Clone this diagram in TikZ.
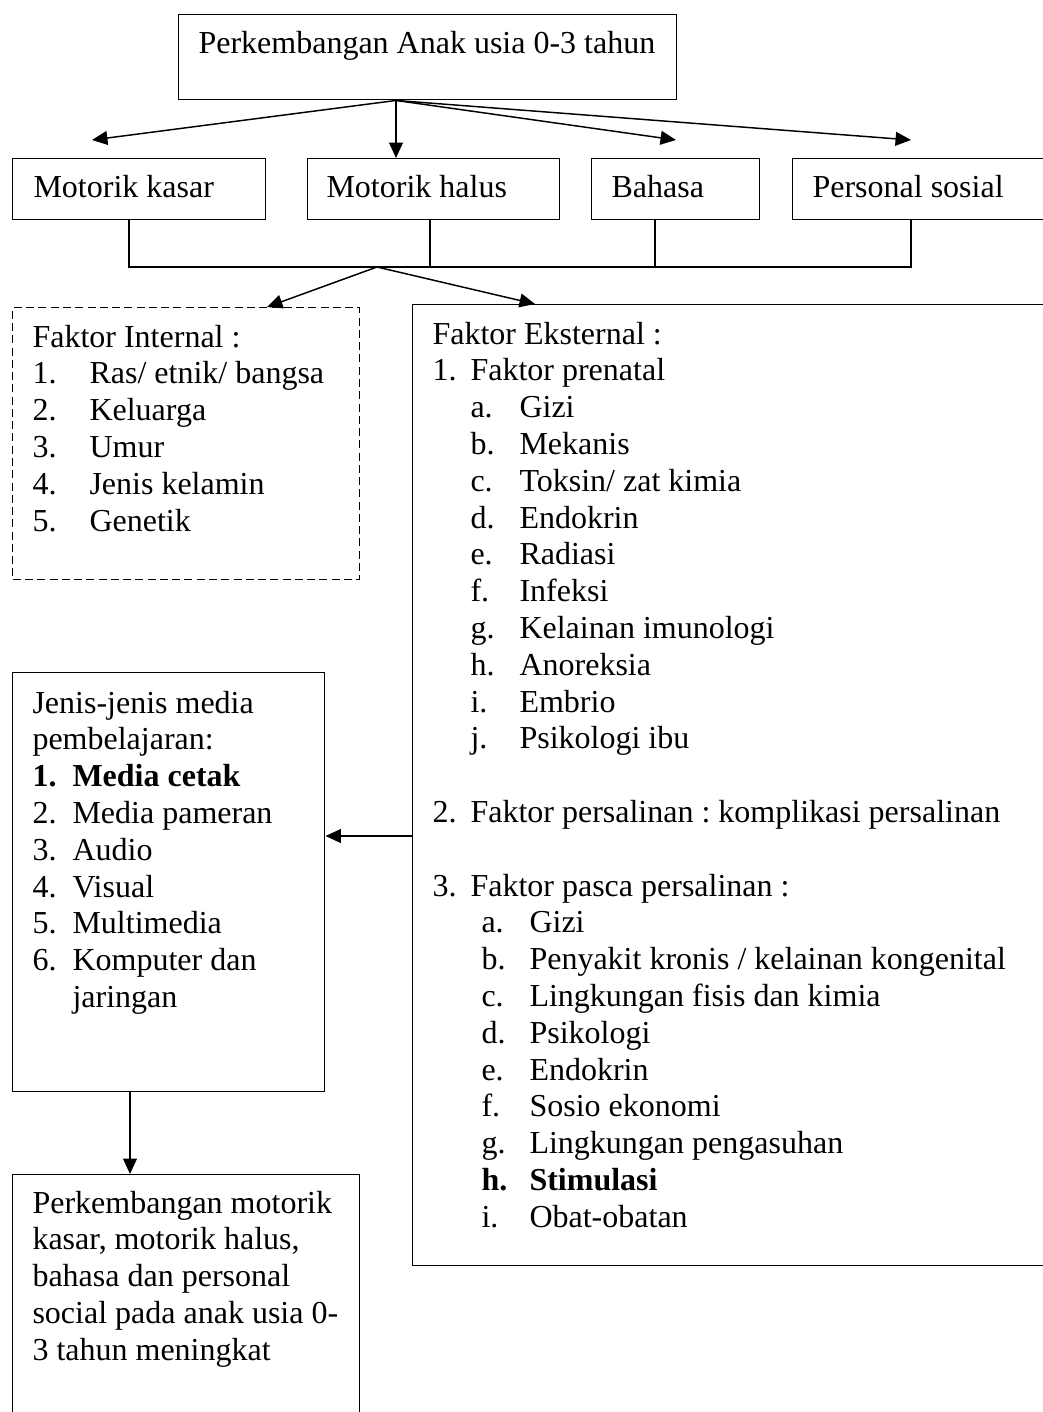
\documentclass[tikz,border=0pt]{standalone}
\usepackage{fontspec}
\setmainfont{Liberation Serif}
\usetikzlibrary{arrows.meta}
\newdimen\px
\px=0.375pt
\frenchspacing

\begin{document}
\begin{tikzpicture}[x=0.375pt, y=-0.375pt,
        box/.style={draw, line width=0.55pt, anchor=north west, inner sep=0pt},
        dashbox/.style={box, dash pattern=on 3pt off 1.6pt},
        txt/.style={anchor=base west, inner sep=0pt, font=\fontsize{12}{13.8}\selectfont},
        link/.style={line width=0.55pt, -{Triangle[length=5.8pt,width=5.2pt]}},
        joint/.style={line width=0.55pt}]

        \useasboundingbox (0,0) rectangle (1043,1412);
        \clip (0,0) rectangle (1043,1412);

        % main topic
        \node[box, minimum width=498*\px, minimum height=85*\px] (anak) at (178,14) {};
        \node[txt] (anakT) at (198,54) {Perkembangan Anak usia 0-3 tahun};

        % four aspects
        \node[box, minimum width=253*\px, minimum height=61*\px] (kasar) at (12,158) {};
        \node[txt] (kasarT) at (33,198) {Motorik kasar};
        \node[box, minimum width=252*\px, minimum height=61*\px] (halus) at (307,158) {};
        \node[txt] (halusT) at (326,198) {Motorik halus};
        \node[box, minimum width=168*\px, minimum height=61*\px] (bahasa) at (591,158) {};
        \node[txt] (bahasaT) at (611,198) {Bahasa};
        \node[box, minimum width=280*\px, minimum height=61*\px] (sosial) at (792,158) {};
        \node[txt] (sosialT) at (812,198) {Personal sosial};

        % arrows from the topic
        \coordinate (topHub) at (anak.south -| 396,0);
        \coordinate (kasarTip) at (92,140);
        \coordinate (bahasaTip) at (676,140);
        \coordinate (sosialTip) at (911,140);
        \draw[link] (topHub) -- (kasarTip);
        \draw[link] (topHub) -- (topHub |- halus.north);
        \draw[link] (topHub) -- (bahasaTip);
        \draw[link] (topHub) -- (sosialTip);

        % joining bar
        \coordinate (bar) at (377,267);
        \draw[joint] (kasar.south -| 129,0) -- (bar -| 129,0) -- (bar -| 911,0) -- (sosial.south -| 911,0);
        \draw[joint] (halus.south -| 430,0) -- (bar -| 430,0);
        \draw[joint] (bahasa.south -| 655,0) -- (bar -| 655,0);

        % factors
        \node[dashbox, minimum width=347*\px, minimum height=272*\px] (intern) at (12,307) {};
        \node[box, minimum width=660*\px, minimum height=961*\px] (ekstern) at (412,304) {};
        \draw[link] (bar) -- (intern.north -| 267,0);
        \draw[link] (bar) -- (ekstern.north -| 535,0);

        \node[txt] (internT) at (32,347) {\begin{tabular}[t]{@{}l@{}}
            Faktor Internal :\\
            \makebox[57\px][l]{1.}Ras/ etnik/ bangsa\\
            \makebox[57\px][l]{2.}Keluarga\\
            \makebox[57\px][l]{3.}Umur\\
            \makebox[57\px][l]{4.}Jenis kelamin\\
            \makebox[57\px][l]{5.}Genetik
        \end{tabular}};

        \node[txt] (eksternT) at (432,344) {\begin{tabular}[t]{@{}l@{}}
            Faktor Eksternal :\\
            \makebox[38\px][l]{1.}Faktor prenatal\\
            \hspace*{38\px}\makebox[49\px][l]{a.}Gizi\\
            \hspace*{38\px}\makebox[49\px][l]{b.}Mekanis\\
            \hspace*{38\px}\makebox[49\px][l]{c.}Toksin/ zat kimia\\
            \hspace*{38\px}\makebox[49\px][l]{d.}Endokrin\\
            \hspace*{38\px}\makebox[49\px][l]{e.}Radiasi\\
            \hspace*{38\px}\makebox[49\px][l]{f.}Infeksi\\
            \hspace*{38\px}\makebox[49\px][l]{g.}Kelainan imunologi\\
            \hspace*{38\px}\makebox[49\px][l]{h.}Anoreksia\\
            \hspace*{38\px}\makebox[49\px][l]{i.}Embrio\\
            \hspace*{38\px}\makebox[49\px][l]{j.}Psikologi ibu\\
            \\
            \makebox[38\px][l]{2.}Faktor persalinan : komplikasi persalinan\\
            \\
            \makebox[38\px][l]{3.}Faktor pasca persalinan :\\
            \hspace*{49\px}\makebox[48\px][l]{a.}Gizi\\
            \hspace*{49\px}\makebox[48\px][l]{b.}Penyakit kronis / kelainan kongenital\\
            \hspace*{49\px}\makebox[48\px][l]{c.}Lingkungan fisis dan kimia\\
            \hspace*{49\px}\makebox[48\px][l]{d.}Psikologi\\
            \hspace*{49\px}\makebox[48\px][l]{e.}Endokrin\\
            \hspace*{49\px}\makebox[48\px][l]{f.}Sosio ekonomi\\
            \hspace*{49\px}\makebox[48\px][l]{g.}Lingkungan pengasuhan\\
            \hspace*{49\px}\makebox[48\px][l]{\textbf{h.}}\textbf{Stimulasi}\\
            \hspace*{49\px}\makebox[48\px][l]{i.}Obat-obatan
        \end{tabular}};

        % learning media
        \node[box, minimum width=312*\px, minimum height=419*\px] (media) at (12,672) {};
        \node[txt] (mediaT) at (32,713) {\begin{tabular}[t]{@{}l@{}}
            Jenis-jenis media\\
            pembelajaran:\\
            \makebox[40\px][l]{\textbf{1.}}\textbf{Media cetak}\\
            \makebox[40\px][l]{2.}Media pameran\\
            \makebox[40\px][l]{3.}Audio\\
            \makebox[40\px][l]{4.}Visual\\
            \makebox[40\px][l]{5.}Multimedia\\
            \makebox[40\px][l]{6.}Komputer dan\\
            \hspace*{40\px}jaringan
        \end{tabular}};
        \draw[link] (ekstern.west |- 0,836) -- (media.east |- 0,836);

        % outcome
        \node[box, minimum width=347*\px, minimum height=270*\px] (hasil) at (12,1174) {};
        \node[txt] (hasilT) at (32,1213) {\begin{tabular}[t]{@{}l@{}}
            Perkembangan motorik\\
            kasar, motorik halus,\\
            bahasa dan personal\\
            social pada anak usia 0-\\
            3 tahun meningkat
        \end{tabular}};
        \draw[link] (media.south -| 130,0) -- (hasil.north -| 130,0);
    \end{tikzpicture}
\end{document}
